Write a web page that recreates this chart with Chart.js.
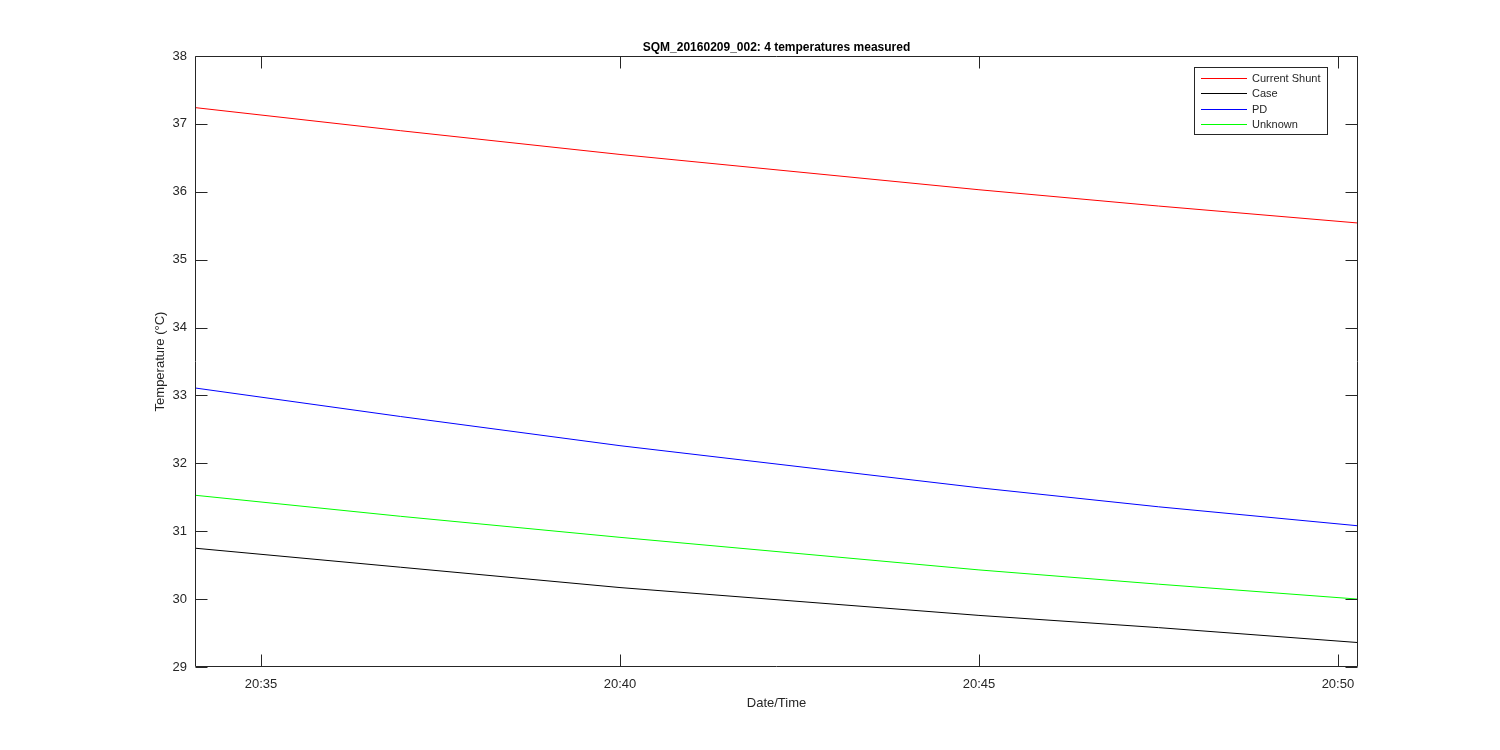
<!DOCTYPE html>
<html>
<head>
<meta charset="utf-8">
<script src="https://cdn.jsdelivr.net/npm/chart.js@4/dist/chart.umd.min.js"></script>
<style>
  html, body { margin: 0; padding: 0; background: #ffffff; }
  #wrap { width: 1500px; height: 750px; }
</style>
</head>
<body>
<div id="wrap"><canvas id="c" width="1500" height="750"></canvas></div>
<script>
// ---- Data (time in minutes past 20:00) ----
const timeMinutes = [34.08, 36.94, 40.0, 45.0, 47.5, 50.28];
const currentShunt = [37.24, 36.90, 36.55, 36.03, 35.79, 35.54];
const caseTemp     = [30.75, 30.47, 30.17, 29.76, 29.58, 29.36];
const pdTemp       = [33.11, 32.69, 32.26, 31.64, 31.36, 31.08];
const unknownTemp  = [31.53, 31.22, 30.91, 30.43, 30.22, 30.00];

const seriesNames  = ['Current Shunt', 'Case', 'PD', 'Unknown'];
const seriesColors = ['#ff0000', '#000000', '#0000ff', '#00ff00'];
const xTickValues  = [35, 40, 45, 50];
const xTickLabels  = ['20:35', '20:40', '20:45', '20:50'];
const yTickValues  = [29, 30, 31, 32, 33, 34, 35, 36, 37, 38];
const xMin = 34.08, xMax = 50.28, yMin = 29, yMax = 38;
const chartTitle = 'SQM_20160209_002: 4 temperatures measured';
const xTitle = 'Date/Time';
const yTitle = 'Temperature (°C)';

const FONT = '"Liberation Sans", Arial, Helvetica, sans-serif';
const AXIS = '#262626';

function pts(vals) { return timeMinutes.map((t, i) => ({ x: t, y: vals[i] })); }
const allSeries = [currentShunt, caseTemp, pdTemp, unknownTemp];

const datasets = allSeries.map((vals, i) => ({
  label: seriesNames[i],
  data: pts(vals),
  borderColor: seriesColors[i],
  backgroundColor: seriesColors[i],
  borderWidth: 1,
  pointRadius: 0,
  tension: 0,
  fill: false
}));

const framePlugin = {
  id: 'matlabFrame',
  afterDatasetsDraw(chart) {
    const ctx = chart.ctx;
    const a = chart.chartArea;
    const xs = chart.scales.x, ys = chart.scales.y;
    const L = Math.round(a.left) + 0.5, R = Math.round(a.right) - 0.5;
    const T = Math.round(a.top) + 0.5, B = Math.round(a.bottom) - 0.5;
    ctx.save();
    ctx.strokeStyle = AXIS;
    ctx.lineWidth = 1;
    // box
    ctx.beginPath();
    ctx.rect(L, T, R - L, B - T);
    ctx.stroke();
    // ticks inside
    const tl = 12;
    ctx.beginPath();
    xTickValues.forEach(v => {
      const px = Math.round(xs.getPixelForValue(v)) + 0.5;
      ctx.moveTo(px, B); ctx.lineTo(px, B - tl);
      ctx.moveTo(px, T); ctx.lineTo(px, T + tl);
    });
    yTickValues.forEach(v => {
      const py = Math.round(ys.getPixelForValue(v)) + 0.5;
      ctx.moveTo(L, py); ctx.lineTo(L + tl, py);
      ctx.moveTo(R, py); ctx.lineTo(R - tl, py);
    });
    ctx.stroke();

    // title
    const cx = (a.left + a.right) / 2;
    ctx.fillStyle = '#000000';
    ctx.font = 'bold 12px ' + FONT;
    ctx.textAlign = 'center';
    ctx.textBaseline = 'alphabetic';
    ctx.fillText(chartTitle, cx, 51);

    // axis titles
    ctx.fillStyle = AXIS;
    ctx.font = '13px ' + FONT;
    ctx.textBaseline = 'middle';
    ctx.fillText(xTitle, cx, 703);
    ctx.save();
    ctx.translate(160, (a.top + a.bottom) / 2);
    ctx.rotate(-Math.PI / 2);
    ctx.fillText(yTitle, 0, 0);
    ctx.restore();

    // legend
    const bx = 1194.5, by = 67.5, bw = 133, bh = 67;
    ctx.fillStyle = '#ffffff';
    ctx.fillRect(bx, by, bw, bh);
    ctx.strokeStyle = AXIS;
    ctx.strokeRect(bx, by, bw, bh);
    ctx.font = '11px ' + FONT;
    ctx.textAlign = 'left';
    ctx.textBaseline = 'middle';
    chart.data.datasets.forEach((ds, i) => {
      const yy = Math.round(78 + i * 15.4);
      ctx.fillStyle = seriesColors[i];
      ctx.fillRect(1201, yy, 46, 1);
      ctx.fillStyle = AXIS;
      ctx.fillText(ds.label, 1252, yy + 0.5);
    });
    ctx.restore();
  }
};

new Chart(document.getElementById('c'), {
  type: 'line',
  data: { datasets },
  options: {
    responsive: false,
    animation: false,
    devicePixelRatio: 1,
    layout: { padding: { top: 56, right: 142, left: 0, bottom: 0 } },
    plugins: {
      legend: { display: false },
      title: { display: false },
      tooltip: { enabled: false }
    },
    scales: {
      x: {
        type: 'linear',
        min: xMin, max: xMax,
        grid: { display: false },
        border: { display: false },
        afterBuildTicks(scale) { scale.ticks = xTickValues.map(v => ({ value: v })); },
        afterFit(scale) { scale.height = 83; },
        ticks: {
          color: AXIS,
          font: { family: FONT, size: 13 },
          padding: 2,
          maxRotation: 0,
          autoSkip: false,
          callback(v) { const i = xTickValues.indexOf(v); return i >= 0 ? xTickLabels[i] : ''; }
        }
      },
      y: {
        type: 'linear',
        min: yMin, max: yMax,
        grid: { display: false },
        border: { display: false },
        afterBuildTicks(scale) { scale.ticks = yTickValues.map(v => ({ value: v })); },
        afterFit(scale) { scale.width = 195; },
        ticks: {
          color: AXIS,
          font: { family: FONT, size: 13 },
          padding: 0,
          autoSkip: false
        }
      }
    }
  },
  plugins: [framePlugin]
});
</script>
</body>
</html>
